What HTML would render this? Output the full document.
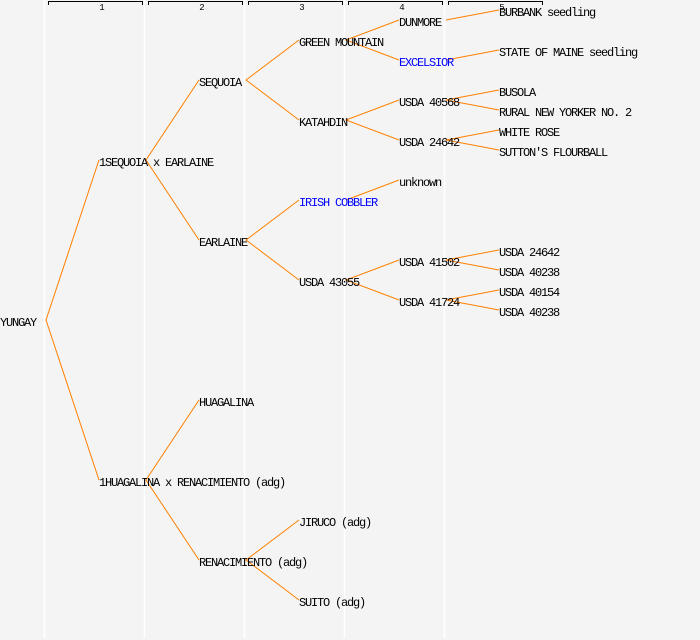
<!DOCTYPE html>
<html><head><meta charset="utf-8"><style>
html,body{margin:0;padding:0;background:#f4f4f4;}
svg{display:block}
text{font-family:"Liberation Mono",monospace;font-size:12px;letter-spacing:-1.2px;fill:#000}
.b{fill:#0000ff}
.h{font-size:9px;letter-spacing:0}
</style></head><body>
<svg width="700" height="640" xmlns="http://www.w3.org/2000/svg">
<rect width="700" height="640" fill="#f4f4f4"/>
<g stroke="#ffffff" stroke-width="1.5">
<line x1="44.5" y1="0" x2="44.5" y2="638"/>
<line x1="144.5" y1="0" x2="144.5" y2="638"/>
<line x1="244.5" y1="0" x2="244.5" y2="638"/>
<line x1="344.5" y1="0" x2="344.5" y2="638"/>
<line x1="444.5" y1="0" x2="444.5" y2="638"/>
</g>
<g stroke="#000" stroke-width="1" fill="none">
<path d="M48.5 5V1.5H142.5V5"/>
<path d="M148.5 5V1.5H242.5V5"/>
<path d="M248.5 5V1.5H342.5V5"/>
<path d="M348.5 5V1.5H442.5V5"/>
<path d="M448.5 5V1.5H542.5V5"/>
</g>
<text class="h" x="102" y="10" text-anchor="middle">1</text>
<text class="h" x="202" y="10" text-anchor="middle">2</text>
<text class="h" x="302" y="10" text-anchor="middle">3</text>
<text class="h" x="402" y="10" text-anchor="middle">4</text>
<text class="h" x="502" y="10" text-anchor="middle">5</text>
<g stroke="#ff8000" stroke-width="1" fill="none">
<path d="M99 160L46 320L99 480"/>
<path d="M199 80L146 160L199 240"/>
<path d="M299 40L246 80L299 120"/>
<path d="M399 20L346 40L399 60"/>
<path d="M499 10L446 20"/>
<path d="M499 50L446 60"/>
<path d="M399 100L346 120L399 140"/>
<path d="M499 90L446 100L499 110"/>
<path d="M499 130L446 140L499 150"/>
<path d="M299 200L246 240L299 280"/>
<path d="M399 180L346 200"/>
<path d="M399 260L346 280L399 300"/>
<path d="M499 250L446 260L499 270"/>
<path d="M499 290L446 300L499 310"/>
<path d="M199 400L146 480L199 560"/>
<path d="M299 520L246 560L299 600"/>
</g>
<text x="0" y="326">YUNGAY</text>
<text x="99" y="166">1SEQUOIA x EARLAINE</text>
<text x="199" y="86">SEQUOIA</text>
<text x="299" y="46">GREEN MOUNTAIN</text>
<text x="399" y="26">DUNMORE</text>
<text x="499" y="16">BURBANK seedling</text>
<text x="399" y="66" class="b">EXCELSIOR</text>
<text x="499" y="56">STATE OF MAINE seedling</text>
<text x="299" y="126">KATAHDIN</text>
<text x="399" y="106">USDA 40568</text>
<text x="499" y="96">BUSOLA</text>
<text x="499" y="116">RURAL NEW YORKER NO. 2</text>
<text x="399" y="146">USDA 24642</text>
<text x="499" y="136">WHITE ROSE</text>
<text x="499" y="156">SUTTON'S FLOURBALL</text>
<text x="199" y="246">EARLAINE</text>
<text x="299" y="206" class="b">IRISH COBBLER</text>
<text x="399" y="186">unknown</text>
<text x="299" y="286">USDA 43055</text>
<text x="399" y="266">USDA 41502</text>
<text x="499" y="256">USDA 24642</text>
<text x="499" y="276">USDA 40238</text>
<text x="399" y="306">USDA 41724</text>
<text x="499" y="296">USDA 40154</text>
<text x="499" y="316">USDA 40238</text>
<text x="99" y="486">1HUAGALINA x RENACIMIENTO (adg)</text>
<text x="199" y="406">HUAGALINA</text>
<text x="199" y="566">RENACIMIENTO (adg)</text>
<text x="299" y="526">JIRUCO (adg)</text>
<text x="299" y="606">SUITO (adg)</text>
</svg>
</body></html>
